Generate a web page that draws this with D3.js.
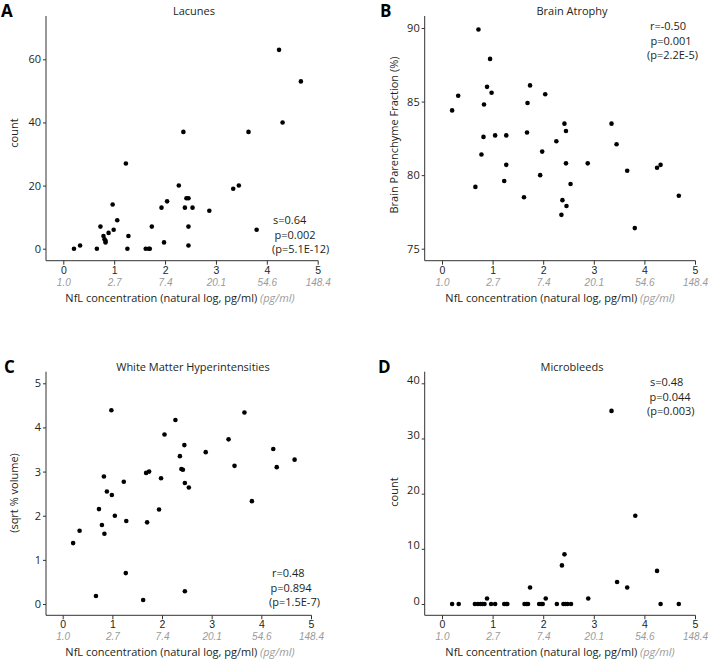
<!DOCTYPE html>
<html><head><meta charset="utf-8">
<script src="https://cdn.jsdelivr.net/npm/d3@7"></script>
<style>
body{margin:0;background:#fff;}
svg{font-family:"Open Sans",sans-serif;}
</style></head>
<body><svg id="c" width="709" height="661"></svg>
<script>
// ---- data ----
const xTicks = [0,1,2,3,4,5];
const xTickExp = ["1.0","2.7","7.4","20.1","54.6","148.4"];

const lacunesX = [0.21,0.33,0.66,0.73,0.79,0.81,0.83,0.83,0.89,0.97,0.99,1.06,1.23,1.26,1.28,1.62,1.68,1.70,1.74,1.93,1.98,2.04,2.27,2.36,2.39,2.42,2.46,2.46,2.46,2.54,2.87,3.34,3.45,3.64,3.80,4.24,4.31,4.67];
const lacunesY = [0,1,0,7,4,3,2.5,2,5,14,6,9,27,0,4,0,0,0,7,13,2,15,20,37,13,16,16,7,1,13,12,19,20,37,6,63,40,53];
const lacunesTicks = [0,20,40,60];

const atrophyX = [0.20,0.32,0.66,0.72,0.78,0.82,0.83,0.89,0.95,0.98,1.05,1.23,1.27,1.27,1.62,1.68,1.69,1.74,1.94,1.98,2.04,2.26,2.36,2.38,2.42,2.45,2.45,2.46,2.54,2.88,3.35,3.45,3.66,3.81,4.25,4.32,4.68];
const atrophyY = [84.4,85.4,79.2,89.9,81.4,82.6,84.8,86.0,87.9,85.6,82.7,79.6,82.7,80.7,78.5,82.9,84.9,86.1,80.0,81.6,85.5,82.3,77.3,78.3,83.5,83.0,80.8,77.9,79.4,80.8,83.5,82.1,80.3,76.4,80.5,80.7,78.6];
const atrophyTicks = [75,80,85,90];

const wmhX = [0.21,0.34,0.67,0.73,0.79,0.83,0.84,0.89,0.98,0.99,1.05,1.23,1.27,1.28,1.62,1.68,1.70,1.74,1.94,1.98,2.05,2.27,2.36,2.39,2.42,2.45,2.46,2.46,2.54,2.88,3.34,3.46,3.66,3.81,4.24,4.31,4.67];
const wmhY = [1.38,1.66,0.18,2.15,1.79,2.89,1.59,2.55,4.39,2.47,2.00,2.77,0.70,1.88,0.09,2.97,1.85,3.00,2.14,2.85,3.84,4.17,3.35,3.06,3.04,3.60,2.74,0.29,2.64,3.44,3.73,3.13,4.34,2.33,3.51,3.10,3.27];
const wmhTicks = [0,1,2,3,4,5];

const mbX = [0.20,0.33,0.65,0.71,0.76,0.80,0.84,0.89,0.97,1.05,1.23,1.27,1.29,1.63,1.67,1.70,1.74,1.92,1.96,1.99,2.05,2.27,2.37,2.42,2.40,2.44,2.48,2.55,2.89,3.35,3.46,3.66,3.82,4.25,4.32,4.68];
const mbY = [0,0,0,0,0,0,0,1,0,0,0,0,0,0,0,0,3,0,0,0,1,0,7,9,0,0,0,0,1,35,4,3,16,6,0,0];
const mbTicks = [0,10,20,30,40];

// ---- layout ----
const svg = d3.select("#c");
const txt = "#231f20";

function panel(o){
  const g = svg.append("g");
  const x = d3.scaleLinear().domain([0,5]).range([o.x0,o.x5]);
  const y = d3.scaleLinear().domain(o.yDom).range(o.yRange);
  // axis lines
  g.append("line").attr("x1",o.ax).attr("x2",o.ax).attr("y1",o.top).attr("y2",o.bottom)
    .attr("stroke","#333").attr("stroke-width",1);
  g.append("line").attr("x1",o.ax).attr("x2",o.x5+0.5).attr("y1",o.bottom).attr("y2",o.bottom)
    .attr("stroke","#333").attr("stroke-width",1);
  // x axis
  const xa = g.append("g").attr("transform",`translate(0,${o.bottom})`)
    .call(d3.axisBottom(x).tickValues(xTicks).tickSize(4).tickFormat(d3.format("d")));
  xa.select(".domain").remove();
  xa.selectAll("line").attr("stroke","#333");
  xa.selectAll("text").attr("y",13).attr("dy",null).attr("font-size",10.5).attr("fill",txt)
    .attr("font-family","Liberation Sans");
  xa.selectAll(".tick").append("text").attr("y",25)
    .attr("text-anchor","middle").attr("fill","#9a9a9a").attr("font-style","italic")
    .attr("font-family","Liberation Sans").attr("font-size",10).text((d,i)=>xTickExp[i]);
  // y axis
  const ya = g.append("g").attr("transform",`translate(${o.ax},0)`)
    .call(d3.axisLeft(y).tickValues(o.yTicks).tickSize(3).tickPadding(2).tickFormat(d3.format("d")));
  ya.select(".domain").remove();
  ya.selectAll("line").attr("stroke","#333");
  ya.selectAll("text").attr("font-size",11).attr("fill",txt).attr("font-family","Open Sans").attr("dy",o.ytDy||"0.32em");
  // points
  g.selectAll("circle").data(o.xs).enter().append("circle")
    .attr("cx",(d)=>x(d)).attr("cy",(d,i)=>y(o.ys[i])).attr("r",2.3).attr("fill","#000");
  // titles
  g.append("text").attr("x",o.titleX).attr("y",o.titleY).attr("text-anchor","middle")
    .attr("font-size",11).attr("fill",txt).text(o.title);
  g.append("text").attr("x",o.letterX).attr("y",o.titleY+1.5).attr("font-size",17).attr("font-weight","bold")
    .attr("fill","#000").text(o.letter);
  g.append("text").attr("transform",`translate(${o.ylabX},${o.ylabY}) rotate(-90)`).attr("text-anchor","middle")
    .attr("font-size",11).attr("fill",txt).text(o.ylab);
  const xl = g.append("text").attr("x",o.xlabX).attr("y",o.bottom+41).attr("text-anchor","middle")
    .attr("font-size",11).attr("fill",txt);
  xl.append("tspan").text("NfL concentration (natural log, pg/ml) ");
  xl.append("tspan").attr("fill","#9a9a9a").attr("font-style","italic").text("(pg/ml)");
  // stats
  o.stats.forEach((s,i)=>{
    g.append("text").attr("x",o.statX+s[1]).attr("y",o.statY+i*14.5).attr("font-size",11)
      .attr("fill",txt).text(s[0]);
  });
}

panel({letter:"A",title:"Lacunes",xs:lacunesX,ys:lacunesY,yTicks:lacunesTicks,
  ax:46,x0:63.3,x5:317.7,top:16,bottom:260.7,yDom:[0,60],yRange:[248.7,59.3],
  titleX:194,titleY:15,letterX:1,ylab:"count",ylabX:18,ylabY:133,xlabX:180,
  stats:[["s=0.64",1],["p=0.002",2.5],["(p=5.1E-12)",0]],statX:272,statY:224});
panel({letter:"B",title:"Brain Atrophy",xs:atrophyX,ys:atrophyY,yTicks:atrophyTicks,
  ax:424.7,x0:442,x5:695,top:16,bottom:260.7,yDom:[75,90],yRange:[248.7,28],
  titleX:572,titleY:15,letterX:380,ylab:"Brain Parenchyme Fraction (%)",ylabX:398,ylabY:135,xlabX:560,
  stats:[["r=-0.50",3],["p=0.001",3.5],["(p=2.2E-5)",0]],statX:647,statY:30});
panel({letter:"C",title:"White Matter Hyperintensities",xs:wmhX,ys:wmhY,yTicks:wmhTicks,
  ax:46,x0:62.7,x5:311,top:371.7,bottom:615.3,yDom:[0,5],yRange:[604,383.3],
  titleX:193,titleY:371,letterX:4,ylab:"(sqrt % volume)",ylabX:18,ylabY:493,xlabX:180,
  stats:[["r=0.48",3],["p=0.894",1.5],["(p=1.5E-7)",0]],statX:269,statY:577});
panel({letter:"D",title:"Microbleeds",xs:mbX,ys:mbY,yTicks:mbTicks,ytDy:"0",
  ax:424.7,x0:442,x5:695,top:371.7,bottom:615.3,yDom:[0,40],yRange:[604,383.3],
  titleX:572,titleY:371,letterX:378,ylab:"count",ylabX:398,ylabY:492,xlabX:560,
  stats:[["s=0.48",3],["p=0.044",2.5],["(p=0.003)",0]],statX:647,statY:386});
</script></body></html>
